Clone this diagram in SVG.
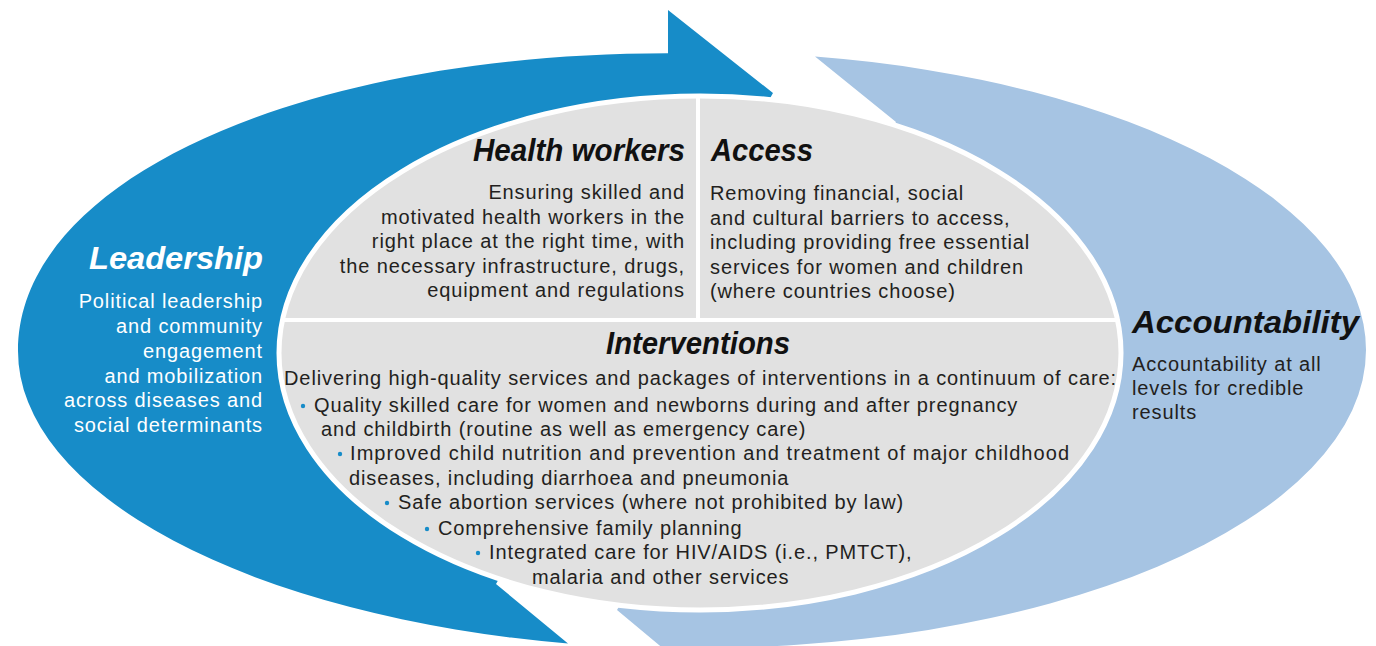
<svg xmlns="http://www.w3.org/2000/svg" width="1376" height="646" viewBox="0 0 1376 646">
<defs>
<style>
.h{font-family:"Liberation Sans",Arial,sans-serif;font-weight:bold;font-style:italic;font-size:32px;fill:#111}
.b{font-family:"Liberation Sans",Arial,sans-serif;font-size:20px;letter-spacing:0.88px;fill:#231f20}
.e{text-anchor:end}
.w{fill:#ffffff}
.dot{fill:#178cc8}
.div{stroke:#ffffff;stroke-width:4;fill:none}
</style>
<clipPath id="core"><ellipse cx="700" cy="353" rx="421" ry="257"/></clipPath>
</defs>
<rect width="1376" height="646" fill="#ffffff"/>
<g id="connectors">
<path id="arrow-blue" d="M773,93 L668,10 L668,53.3 C304,53.3 18,178 18,351 A680 298 0 0 0 568,643.5 L496,584 Z" fill="#178cc8"/>
<path id="arrow-lightblue" d="M815,56.48 A666 298 0 0 1 1366,350 A666 298 0 0 1 662,647.51 L617,610 L896,122 Z" fill="#a6c4e3"/>
</g>
<g id="core-ellipse">
<ellipse cx="700" cy="353" rx="421" ry="257" fill="#e1e1e1" stroke="#ffffff" stroke-width="5"/>
<g clip-path="url(#core)">
<line class="div" x1="270" y1="320" x2="1130" y2="320"/>
<line class="div" x1="698" y1="90" x2="698" y2="320"/>
</g>
</g>
<g id="leadership">
<text class="h w e" x="263" y="269" textLength="174" lengthAdjust="spacingAndGlyphs">Leadership</text>
<text class="b w e" x="263" y="308">Political leadership</text>
<text class="b w e" x="263" y="333">and community</text>
<text class="b w e" x="263" y="358">engagement</text>
<text class="b w e" x="263" y="383">and mobilization</text>
<text class="b w e" x="263" y="407">across diseases and</text>
<text class="b w e" x="263" y="432">social determinants</text>
</g>
<g id="health-workers">
<text class="h e" x="685" y="161" textLength="212" lengthAdjust="spacingAndGlyphs">Health workers</text>
<text class="b e" x="685" y="199">Ensuring skilled and</text>
<text class="b e" x="685" y="224">motivated health workers in the</text>
<text class="b e" x="685" y="248">right place at the right time, with</text>
<text class="b e" x="685" y="273">the necessary infrastructure, drugs,</text>
<text class="b e" x="685" y="297">equipment and regulations</text>
</g>
<g id="access">
<text class="h" x="711" y="161" textLength="102" lengthAdjust="spacingAndGlyphs">Access</text>
<text class="b" x="710" y="200">Removing financial, social</text>
<text class="b" x="710" y="225">and cultural barriers to access,</text>
<text class="b" x="710" y="249">including providing free essential</text>
<text class="b" x="710" y="274">services for women and children</text>
<text class="b" x="710" y="298">(where countries choose)</text>
</g>
<g id="interventions">
<text class="h" x="606" y="354" textLength="184" lengthAdjust="spacingAndGlyphs">Interventions</text>
<text class="b" x="284" y="385" textLength="833" lengthAdjust="spacing">Delivering high-quality services and packages of interventions in a continuum of care:</text>
<text class="b" x="314" y="412">Quality skilled care for women and newborns during and after pregnancy</text>
<text class="b" x="321" y="436">and childbirth (routine as well as emergency care)</text>
<text class="b" x="350" y="460" textLength="720" lengthAdjust="spacing">Improved child nutrition and prevention and treatment of major childhood</text>
<text class="b" x="349" y="485">diseases, including diarrhoea and pneumonia</text>
<text class="b" x="398" y="509">Safe abortion services (where not prohibited by law)</text>
<text class="b" x="438" y="535">Comprehensive family planning</text>
<text class="b" x="489" y="559">Integrated care for HIV/AIDS (i.e., PMTCT),</text>
<text class="b" x="532" y="584">malaria and other services</text>
<circle class="dot" cx="303" cy="406" r="2.2"/>
<circle class="dot" cx="340" cy="454" r="2.2"/>
<circle class="dot" cx="387" cy="503" r="2.2"/>
<circle class="dot" cx="427" cy="529" r="2.2"/>
<circle class="dot" cx="478" cy="553" r="2.2"/>
</g>
<g id="accountability">
<text class="h" x="1132" y="333" textLength="227" lengthAdjust="spacingAndGlyphs">Accountability</text>
<text class="b" x="1132" y="371">Accountability at all</text>
<text class="b" x="1132" y="395">levels for credible</text>
<text class="b" x="1132" y="419">results</text>
</g>
</svg>
